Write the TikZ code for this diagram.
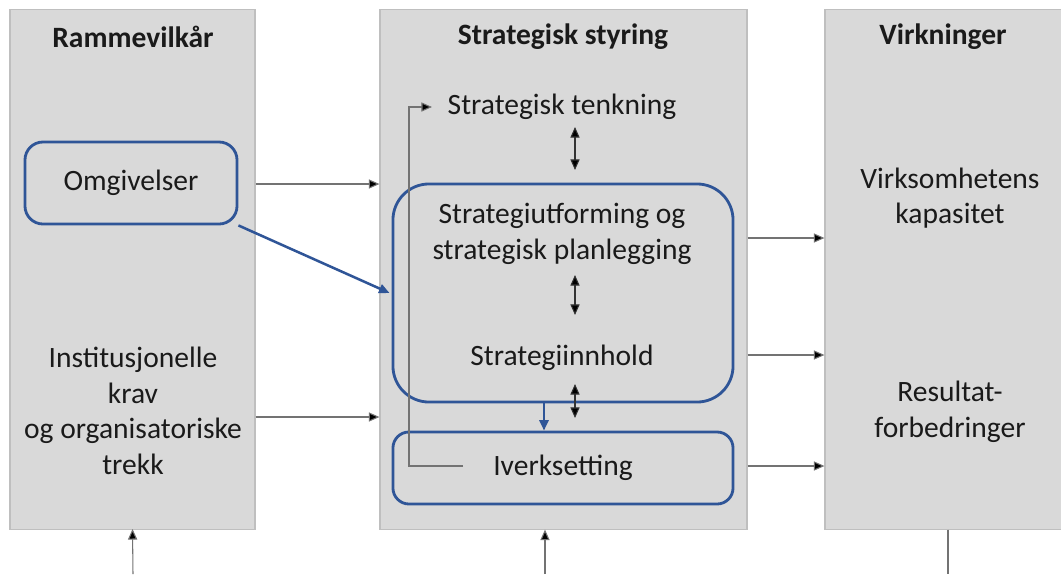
\documentclass[tikz,border=0pt]{standalone}
\usepackage{fontspec}
\setmainfont{Carlito}
\usetikzlibrary{arrows.meta,positioning,calc}
\definecolor{panelgra}{HTML}{D9D9D9}
\definecolor{kantgra}{HTML}{BFBFBF}
\definecolor{strekblaa}{HTML}{2F5597}
\definecolor{tekstsort}{HTML}{1A1A1A}
\tikzset{
  panel/.style={draw=kantgra,fill=panelgra,line width=0.8pt,
    minimum width=6.125cm,minimum height=12.975cm,inner sep=0pt},
  tittel/.style={text=tekstsort,font=\fontsize{21}{25}\selectfont\bfseries},
  tekst/.style={text=tekstsort,font=\fontsize{21}{25.3}\selectfont,align=center},
  blaaboks/.style={draw=strekblaa,line width=2pt,rounded corners=#1,text=tekstsort,
    font=\fontsize{21}{25.3}\selectfont,align=center,inner sep=0pt},
  pil/.style={draw=black!55,line width=0.75pt,-{Triangle[length=7.5pt,width=6.5pt,fill=black]}},
  dobbel/.style={draw=black!80,line width=0.75pt,{Triangle[length=7.5pt,width=6.5pt,fill=black]}-{Triangle[length=7.5pt,width=6.5pt,fill=black]}},
  blaapil/.style={draw=strekblaa,line width=1.8pt,-{Triangle[length=7.5pt,width=6.5pt]}}
}
\begin{document}
\begin{tikzpicture}[x=0.025cm,y=-0.025cm]
\useasboundingbox (0,0) rectangle (1061,574);
\clip (0,0) rectangle (1061,574);
% panels
\node[panel] (venstre) at (132.5,269.5) {};
\node[panel,minimum width=9.175cm] (midt) at (563.5,269.5) {};
\node[panel] (hoyre) at (947.5,269.5) {};
\node[tittel] (tv) at (133,37) {Rammevilkår};
\node[tittel] (tm) at (563,37) {Strategisk styring};
\node[tittel] (th) at (943,37) {Virkninger};

% venstre
\node[blaaboks=0.45cm,minimum width=5.3cm,minimum height=2.05cm] (omg) at (131,183) {Omgivelser};
\node[tekst] (inst) at (133,411) {Institusjonelle\\krav\\og organisatoriske\\trekk};

% midten
\node[tekst] (tenk) at (562,107) {Strategisk tenkning};
\node[blaaboks=0.9cm,minimum width=8.5cm,minimum height=5.45cm] (strat) at (563,293) {};
\node[tekst] (utf) at (562,234) {Strategiutforming og\\strategisk planlegging};
\node[tekst] (innh) at (562,358) {Strategiinnhold};
\node[blaaboks=0.4cm,minimum width=8.5cm,minimum height=1.8cm] (iverk) at (563,468) {Iverksetting};

% hoyre
\node[tekst] (kap) at (950,198) {Virksomhetens\\kapasitet};
\node[tekst] (res) at (950,412) {Resultat-\\forbedringer};

% piler mellom panelene
\draw[pil] (venstre.east |- 0,184) -- (midt.west |- 0,184);
\draw[pil] (venstre.east |- 0,417) -- (midt.west |- 0,417);
\draw[pil] (midt.east |- 0,238) -- (hoyre.west |- 0,238);
\draw[pil] (midt.east |- 0,355) -- (hoyre.west |- 0,355);
\draw[pil] (midt.east |- 0,466) -- (hoyre.west |- 0,466);
\draw[blaapil] (omg.south east) -- ([xshift=-0.05cm]strat.west);

% doble piler
\draw[dobbel] (575,127) -- (575,170);
\draw[dobbel] (575,275) -- (575,315);
\draw[dobbel] (575,384) -- (575,418);
\draw[blaapil] (strat.south -| 544,0) -- (iverk.north -| 544,0);

% tilbakekobling
\draw[pil] (463,466) -| (409,107) -- (432,107);

% nederst
\draw[pil] (133,574) -- (venstre.south |- 0,529);
\draw[pil] (545,574) -- (midt.south -| 545,0);
\draw[draw=black!55,line width=0.75pt] (hoyre.south -| 948,0) -- (948,574);
\end{tikzpicture}
\end{document}
